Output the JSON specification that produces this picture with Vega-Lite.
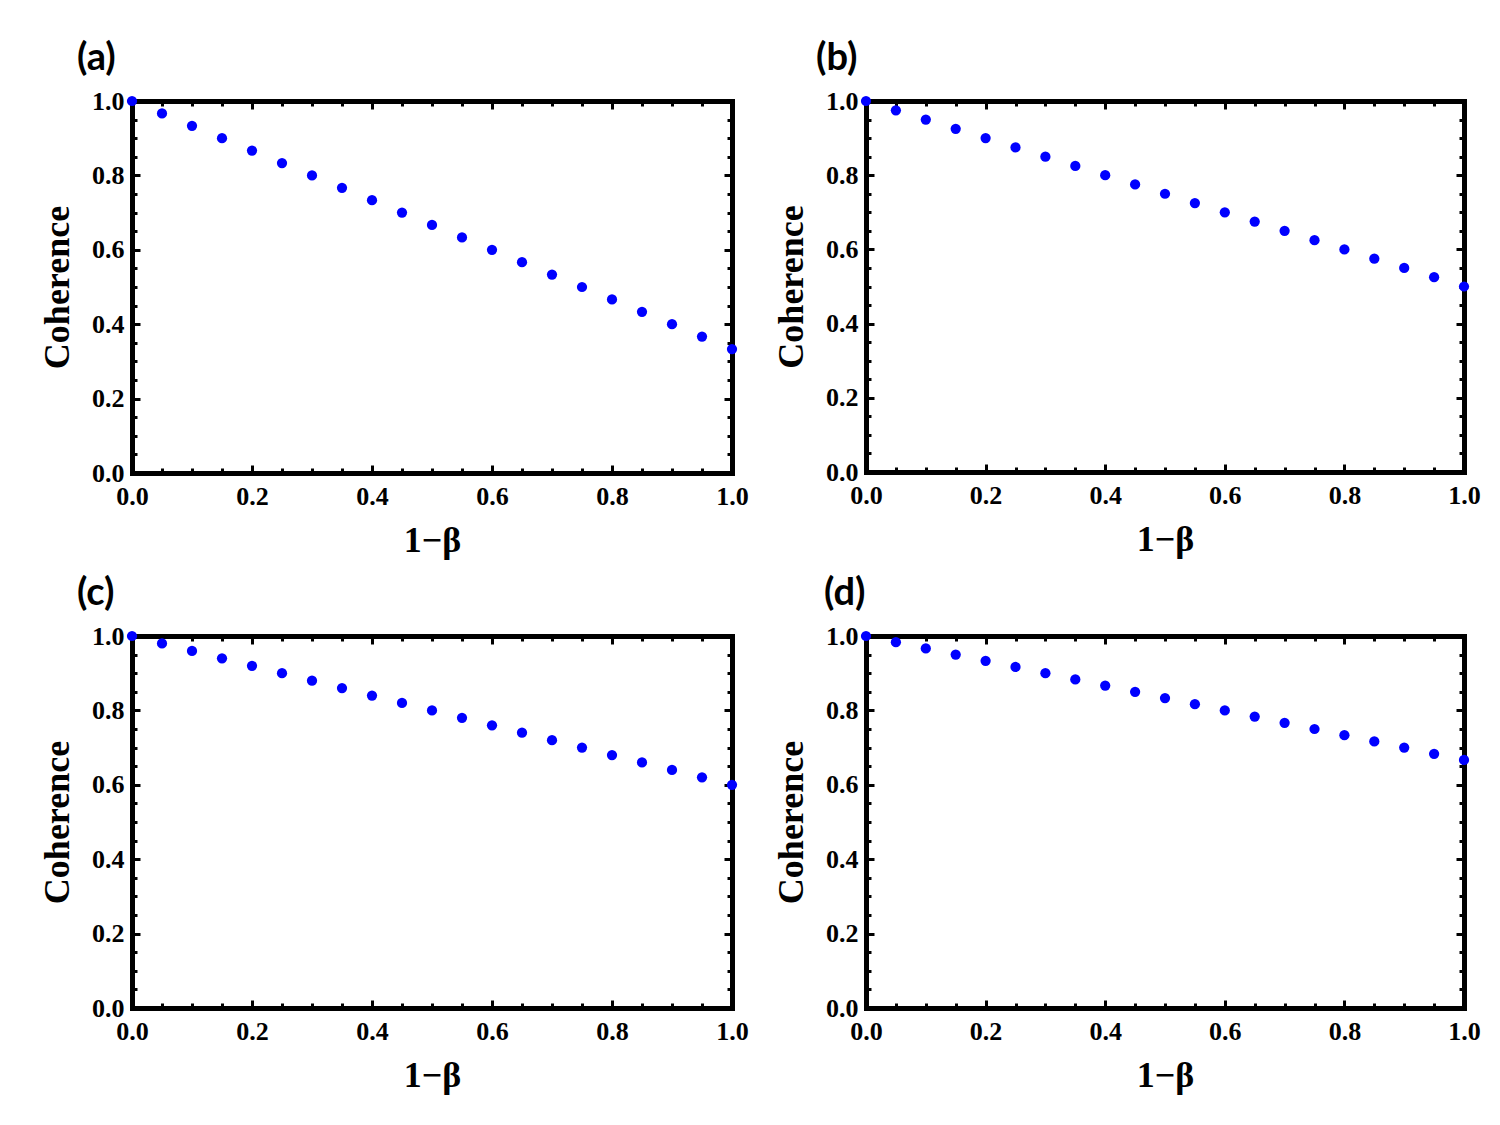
{
  "$schema": "https://vega.github.io/schema/vega-lite/v6.json",
  "background": "white",
  "padding": {"left": 39, "top": 40, "right": 20, "bottom": 16},
  "datasets": {
    "a": [
      {"x": 0, "y": 1}, {"x": 0.05, "y": 0.9667}, {"x": 0.1, "y": 0.9333}, {"x": 0.15, "y": 0.9}, {"x": 0.2, "y": 0.8667},
      {"x": 0.25, "y": 0.8333}, {"x": 0.3, "y": 0.8}, {"x": 0.35, "y": 0.7667}, {"x": 0.4, "y": 0.7333}, {"x": 0.45, "y": 0.7},
      {"x": 0.5, "y": 0.6667}, {"x": 0.55, "y": 0.6333}, {"x": 0.6, "y": 0.6}, {"x": 0.65, "y": 0.5667}, {"x": 0.7, "y": 0.5333},
      {"x": 0.75, "y": 0.5}, {"x": 0.8, "y": 0.4667}, {"x": 0.85, "y": 0.4333}, {"x": 0.9, "y": 0.4}, {"x": 0.95, "y": 0.3667},
      {"x": 1, "y": 0.3333}
    ],
    "b": [
      {"x": 0, "y": 1}, {"x": 0.05, "y": 0.975}, {"x": 0.1, "y": 0.95}, {"x": 0.15, "y": 0.925}, {"x": 0.2, "y": 0.9},
      {"x": 0.25, "y": 0.875}, {"x": 0.3, "y": 0.85}, {"x": 0.35, "y": 0.825}, {"x": 0.4, "y": 0.8}, {"x": 0.45, "y": 0.775},
      {"x": 0.5, "y": 0.75}, {"x": 0.55, "y": 0.725}, {"x": 0.6, "y": 0.7}, {"x": 0.65, "y": 0.675}, {"x": 0.7, "y": 0.65},
      {"x": 0.75, "y": 0.625}, {"x": 0.8, "y": 0.6}, {"x": 0.85, "y": 0.575}, {"x": 0.9, "y": 0.55}, {"x": 0.95, "y": 0.525},
      {"x": 1, "y": 0.5}
    ],
    "c": [
      {"x": 0, "y": 1}, {"x": 0.05, "y": 0.98}, {"x": 0.1, "y": 0.96}, {"x": 0.15, "y": 0.94}, {"x": 0.2, "y": 0.92},
      {"x": 0.25, "y": 0.9}, {"x": 0.3, "y": 0.88}, {"x": 0.35, "y": 0.86}, {"x": 0.4, "y": 0.84}, {"x": 0.45, "y": 0.82},
      {"x": 0.5, "y": 0.8}, {"x": 0.55, "y": 0.78}, {"x": 0.6, "y": 0.76}, {"x": 0.65, "y": 0.74}, {"x": 0.7, "y": 0.72},
      {"x": 0.75, "y": 0.7}, {"x": 0.8, "y": 0.68}, {"x": 0.85, "y": 0.66}, {"x": 0.9, "y": 0.64}, {"x": 0.95, "y": 0.62},
      {"x": 1, "y": 0.6}
    ],
    "d": [
      {"x": 0, "y": 1}, {"x": 0.05, "y": 0.9833}, {"x": 0.1, "y": 0.9667}, {"x": 0.15, "y": 0.95}, {"x": 0.2, "y": 0.9333},
      {"x": 0.25, "y": 0.9167}, {"x": 0.3, "y": 0.9}, {"x": 0.35, "y": 0.8833}, {"x": 0.4, "y": 0.8667}, {"x": 0.45, "y": 0.85},
      {"x": 0.5, "y": 0.8333}, {"x": 0.55, "y": 0.8167}, {"x": 0.6, "y": 0.8}, {"x": 0.65, "y": 0.7833}, {"x": 0.7, "y": 0.7667},
      {"x": 0.75, "y": 0.75}, {"x": 0.8, "y": 0.7333}, {"x": 0.85, "y": 0.7167}, {"x": 0.9, "y": 0.7}, {"x": 0.95, "y": 0.6833},
      {"x": 1, "y": 0.6667}
    ]
  },
  "columns": 2,
  "bounds": "flush",
  "spacing": {"row": 163, "column": 134},
  "concat": [
    {
      "title": {"text": "(a)"},
      "width": 600, "height": 372,
      "data": {"name": "a"},
      "layer": [
        {
          "mark": {"type": "point"},
          "encoding": {
            "x": {"field": "x", "type": "quantitative", "scale": {"domain": [0, 1], "nice": false, "zero": false},
              "axis": {"orient": "bottom", "values": [0,0.05,0.1,0.15,0.2,0.25,0.3,0.35,0.4,0.45,0.5,0.55,0.6,0.65,0.7,0.75,0.8,0.85,0.9,0.95,1], "format": ".1f",
                "labelExpr": "round(datum.value*20)%4==0 ? datum.label : ''",
                "tickSize": {"condition": {"test": "round(datum.value*20)%4==0", "value": -8}, "value": -5},
                "labelPadding": 18, "title": "1−β", "titlePadding": 11}},
            "y": {"field": "y", "type": "quantitative", "scale": {"domain": [0, 1], "nice": false, "zero": false},
              "axis": {"orient": "left", "values": [0,0.05,0.1,0.15,0.2,0.25,0.3,0.35,0.4,0.45,0.5,0.55,0.6,0.65,0.7,0.75,0.8,0.85,0.9,0.95,1], "format": ".1f",
                "labelExpr": "round(datum.value*20)%4==0 ? datum.label : ''",
                "tickSize": {"condition": {"test": "round(datum.value*20)%4==0", "value": -8}, "value": -5},
                "labelPadding": 16, "title": "Coherence", "titlePadding": 15}}
          }
        },
        {
          "mark": {"type": "point", "opacity": 0},
          "encoding": {
            "x": {"field": "x", "type": "quantitative",
              "axis": {"orient": "top", "values": [0,0.05,0.1,0.15,0.2,0.25,0.3,0.35,0.4,0.45,0.5,0.55,0.6,0.65,0.7,0.75,0.8,0.85,0.9,0.95,1],
                "labels": false, "title": null,
                "tickSize": {"condition": {"test": "round(datum.value*20)%4==0", "value": -8}, "value": -5}}},
            "y": {"field": "y", "type": "quantitative",
              "axis": {"orient": "right", "values": [0,0.05,0.1,0.15,0.2,0.25,0.3,0.35,0.4,0.45,0.5,0.55,0.6,0.65,0.7,0.75,0.8,0.85,0.9,0.95,1],
                "labels": false, "title": null,
                "tickSize": {"condition": {"test": "round(datum.value*20)%4==0", "value": -8}, "value": -5}}}
          }
        }
      ],
      "resolve": {"axis": {"x": "independent", "y": "independent"}}
    },
    {
      "title": {"text": "(b)", "dx": -50},
      "width": 598, "height": 371,
      "data": {"name": "b"},
      "layer": [
        {
          "mark": {"type": "point"},
          "encoding": {
            "x": {"field": "x", "type": "quantitative", "scale": {"domain": [0, 1], "nice": false, "zero": false},
              "axis": {"orient": "bottom", "values": [0,0.05,0.1,0.15,0.2,0.25,0.3,0.35,0.4,0.45,0.5,0.55,0.6,0.65,0.7,0.75,0.8,0.85,0.9,0.95,1], "format": ".1f",
                "labelExpr": "round(datum.value*20)%4==0 ? datum.label : ''",
                "tickSize": {"condition": {"test": "round(datum.value*20)%4==0", "value": -8}, "value": -5},
                "labelPadding": 18, "title": "1−β", "titlePadding": 11}},
            "y": {"field": "y", "type": "quantitative", "scale": {"domain": [0, 1], "nice": false, "zero": false},
              "axis": {"orient": "left", "values": [0,0.05,0.1,0.15,0.2,0.25,0.3,0.35,0.4,0.45,0.5,0.55,0.6,0.65,0.7,0.75,0.8,0.85,0.9,0.95,1], "format": ".1f",
                "labelExpr": "round(datum.value*20)%4==0 ? datum.label : ''",
                "tickSize": {"condition": {"test": "round(datum.value*20)%4==0", "value": -8}, "value": -5},
                "labelPadding": 16, "title": "Coherence", "titlePadding": 15}}
          }
        },
        {
          "mark": {"type": "point", "opacity": 0},
          "encoding": {
            "x": {"field": "x", "type": "quantitative",
              "axis": {"orient": "top", "values": [0,0.05,0.1,0.15,0.2,0.25,0.3,0.35,0.4,0.45,0.5,0.55,0.6,0.65,0.7,0.75,0.8,0.85,0.9,0.95,1],
                "labels": false, "title": null,
                "tickSize": {"condition": {"test": "round(datum.value*20)%4==0", "value": -8}, "value": -5}}},
            "y": {"field": "y", "type": "quantitative",
              "axis": {"orient": "right", "values": [0,0.05,0.1,0.15,0.2,0.25,0.3,0.35,0.4,0.45,0.5,0.55,0.6,0.65,0.7,0.75,0.8,0.85,0.9,0.95,1],
                "labels": false, "title": null,
                "tickSize": {"condition": {"test": "round(datum.value*20)%4==0", "value": -8}, "value": -5}}}
          }
        }
      ],
      "resolve": {"axis": {"x": "independent", "y": "independent"}}
    },
    {
      "title": {"text": "(c)"},
      "width": 600, "height": 372,
      "data": {"name": "c"},
      "layer": [
        {
          "mark": {"type": "point"},
          "encoding": {
            "x": {"field": "x", "type": "quantitative", "scale": {"domain": [0, 1], "nice": false, "zero": false},
              "axis": {"orient": "bottom", "values": [0,0.05,0.1,0.15,0.2,0.25,0.3,0.35,0.4,0.45,0.5,0.55,0.6,0.65,0.7,0.75,0.8,0.85,0.9,0.95,1], "format": ".1f",
                "labelExpr": "round(datum.value*20)%4==0 ? datum.label : ''",
                "tickSize": {"condition": {"test": "round(datum.value*20)%4==0", "value": -8}, "value": -5},
                "labelPadding": 18, "title": "1−β", "titlePadding": 11}},
            "y": {"field": "y", "type": "quantitative", "scale": {"domain": [0, 1], "nice": false, "zero": false},
              "axis": {"orient": "left", "values": [0,0.05,0.1,0.15,0.2,0.25,0.3,0.35,0.4,0.45,0.5,0.55,0.6,0.65,0.7,0.75,0.8,0.85,0.9,0.95,1], "format": ".1f",
                "labelExpr": "round(datum.value*20)%4==0 ? datum.label : ''",
                "tickSize": {"condition": {"test": "round(datum.value*20)%4==0", "value": -8}, "value": -5},
                "labelPadding": 16, "title": "Coherence", "titlePadding": 15}}
          }
        },
        {
          "mark": {"type": "point", "opacity": 0},
          "encoding": {
            "x": {"field": "x", "type": "quantitative",
              "axis": {"orient": "top", "values": [0,0.05,0.1,0.15,0.2,0.25,0.3,0.35,0.4,0.45,0.5,0.55,0.6,0.65,0.7,0.75,0.8,0.85,0.9,0.95,1],
                "labels": false, "title": null,
                "tickSize": {"condition": {"test": "round(datum.value*20)%4==0", "value": -8}, "value": -5}}},
            "y": {"field": "y", "type": "quantitative",
              "axis": {"orient": "right", "values": [0,0.05,0.1,0.15,0.2,0.25,0.3,0.35,0.4,0.45,0.5,0.55,0.6,0.65,0.7,0.75,0.8,0.85,0.9,0.95,1],
                "labels": false, "title": null,
                "tickSize": {"condition": {"test": "round(datum.value*20)%4==0", "value": -8}, "value": -5}}}
          }
        }
      ],
      "resolve": {"axis": {"x": "independent", "y": "independent"}}
    },
    {
      "title": {"text": "(d)", "dx": -42},
      "width": 598, "height": 372,
      "data": {"name": "d"},
      "layer": [
        {
          "mark": {"type": "point"},
          "encoding": {
            "x": {"field": "x", "type": "quantitative", "scale": {"domain": [0, 1], "nice": false, "zero": false},
              "axis": {"orient": "bottom", "values": [0,0.05,0.1,0.15,0.2,0.25,0.3,0.35,0.4,0.45,0.5,0.55,0.6,0.65,0.7,0.75,0.8,0.85,0.9,0.95,1], "format": ".1f",
                "labelExpr": "round(datum.value*20)%4==0 ? datum.label : ''",
                "tickSize": {"condition": {"test": "round(datum.value*20)%4==0", "value": -8}, "value": -5},
                "labelPadding": 18, "title": "1−β", "titlePadding": 11}},
            "y": {"field": "y", "type": "quantitative", "scale": {"domain": [0, 1], "nice": false, "zero": false},
              "axis": {"orient": "left", "values": [0,0.05,0.1,0.15,0.2,0.25,0.3,0.35,0.4,0.45,0.5,0.55,0.6,0.65,0.7,0.75,0.8,0.85,0.9,0.95,1], "format": ".1f",
                "labelExpr": "round(datum.value*20)%4==0 ? datum.label : ''",
                "tickSize": {"condition": {"test": "round(datum.value*20)%4==0", "value": -8}, "value": -5},
                "labelPadding": 16, "title": "Coherence", "titlePadding": 15}}
          }
        },
        {
          "mark": {"type": "point", "opacity": 0},
          "encoding": {
            "x": {"field": "x", "type": "quantitative",
              "axis": {"orient": "top", "values": [0,0.05,0.1,0.15,0.2,0.25,0.3,0.35,0.4,0.45,0.5,0.55,0.6,0.65,0.7,0.75,0.8,0.85,0.9,0.95,1],
                "labels": false, "title": null,
                "tickSize": {"condition": {"test": "round(datum.value*20)%4==0", "value": -8}, "value": -5}}},
            "y": {"field": "y", "type": "quantitative",
              "axis": {"orient": "right", "values": [0,0.05,0.1,0.15,0.2,0.25,0.3,0.35,0.4,0.45,0.5,0.55,0.6,0.65,0.7,0.75,0.8,0.85,0.9,0.95,1],
                "labels": false, "title": null,
                "tickSize": {"condition": {"test": "round(datum.value*20)%4==0", "value": -8}, "value": -5}}}
          }
        }
      ],
      "resolve": {"axis": {"x": "independent", "y": "independent"}}
    }
  ],
  "config": {
    "view": {"stroke": null},
    "point": {"filled": true, "color": "#0000ff", "size": 105, "opacity": 1},
    "axis": {
      "grid": false, "zindex": 1,
      "domainColor": "black", "domainWidth": 5, "domainCap": "square",
      "tickColor": "black", "tickWidth": 3,
      "labelFont": "Liberation Serif", "labelFontWeight": "bold", "labelFontSize": 26, "labelColor": "black",
      "labelOverlap": false, "labelFlush": false,
      "titleFont": "Liberation Serif", "titleFontWeight": "bold", "titleFontSize": 36, "titleColor": "black"
    },
    "title": {"anchor": "start", "frame": "group", "dx": -55, "offset": 10, "font": "Lato", "fontWeight": "bold", "fontSize": 38, "color": "black"}
  }
}
